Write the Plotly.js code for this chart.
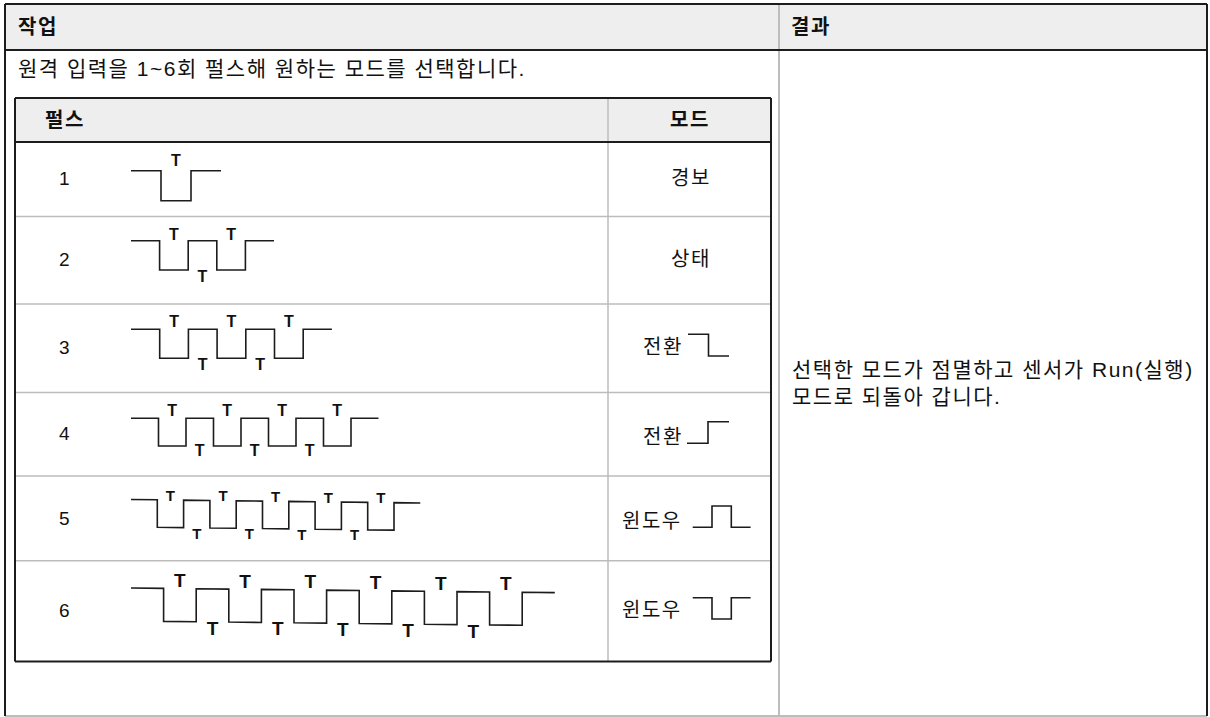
<!DOCTYPE html>
<html><head><meta charset="utf-8">
<script src="https://cdn.plot.ly/plotly-3.0.1.min.js"></script>
<style>html,body{margin:0;padding:0;background:#fff}#chart{width:1210px;height:717px}.annotation-text{letter-spacing:1.5px}</style>
</head><body><div id="chart"></div>
<script>
// ---------------- data ----------------
const outerHeaders = ['작업', '결과'];
const innerHeaders = ['펄스', '모드'];
const instruction = '원격 입력을 1~6회 펄스해 원하는 모드를 선택합니다.';
const resultLines = ['선택한 모드가 점멸하고 센서가 Run(실행)', '모드로 되돌아 갑니다.'];
const pulseCounts = [1, 2, 3, 4, 5, 6];
const modeLabels = ['경보', '상태', '전환', '전환', '윈도우', '윈도우'];
const modeIconLevels = [[], [], [1, 0], [0, 1], [0, 1, 0], [1, 0, 1]];
const pulseMark = 'T';

// ---------------- geometry / style (pixels) ----------------
const W = 1210, H = 717;
const outer = {x0: 5, x1: 1207, y0: 4, y1: 716, headY1: 50, divX: 779};
const inner = {x0: 15, x1: 771, y0: 98, headY1: 142, divX: 608};
const rowEdges = [142, 216.5, 304, 392.5, 476, 560.7, 661.5];
const waveX0 = 131;
const halfPeriod = [30, 28.6, 28.7, 27.5, 26.3, 32.6];
const highY = [170.7, 240.7, 329.3, 418.3, 499.5, 588];
const lowY = [200.7, 270, 358.3, 446, 527, 621];
const tilt = [0, 0, 0, 0, 0.012, 0.011];
const tTopOff = [-9, -4.5, -6.3, -6.6, -3, -6.5];
const tBotOff = [0, 7.7, 7.7, 5.7, 7, 8];
const tSize = [16, 16, 16, 16, 15, 19];
const numX = 65;
const numY = [178, 259, 347, 433, 518, 610];
const iconX0 = [0, 0, 688, 687, 692.7, 692.7];
const iconSeg = [0, 0, 20.5, 21, 19.3, 19.3];
const iconHigh = [0, 0, 334.3, 421.7, 506, 597.7];
const iconLow = [0, 0, 356, 443.3, 527.3, 619];
const modeTextX = [690.5, 690.5, 685, 685, 684, 684];
const modeTextY = [177.5, 259, 346.7, 436.7, 521, 610];

const FONT = 'Liberation Sans, Arial, Noto Sans CJK KR, sans-serif';
const DARK = '#1c1c1c', GRAY = '#bdbdbd', HEADBG = '#eeeeee';

// ---------------- traces ----------------
const traces = [];
pulseCounts.forEach((n, i) => {
  const h = halfPeriod[i];
  const yAt = (lvl, x) => lvl + tilt[i] * (x - waveX0);
  const xs = [waveX0], ys = [yAt(highY[i], waveX0)];
  for (let k = 0; k < n; k++) {
    const xf = waveX0 + (2 * k + 1) * h, xr = waveX0 + (2 * k + 2) * h;
    xs.push(xf, xf, xr, xr);
    ys.push(yAt(highY[i], xf), yAt(lowY[i], xf), yAt(lowY[i], xr), yAt(highY[i], xr));
  }
  const xe = waveX0 + (2 * n + 1) * h;
  xs.push(xe); ys.push(yAt(highY[i], xe));
  traces.push({x: xs, y: ys, mode: 'lines', line: {color: DARK, width: 1.6}, hoverinfo: 'skip'});
  const tx = [], ty = [];
  for (let k = 0; k < n; k++) {
    const x = waveX0 + (2 * k + 1.5) * h;
    tx.push(x); ty.push(yAt(highY[i], x) + tTopOff[i]);
  }
  for (let k = 0; k < n - 1; k++) {
    const x = waveX0 + (2 * k + 2.5) * h;
    tx.push(x); ty.push(yAt(lowY[i], x) + tBotOff[i]);
  }
  traces.push({x: tx, y: ty, mode: 'text', text: tx.map(() => pulseMark), textposition: 'middle center',
    textfont: {family: FONT, size: tSize[i], color: '#111', weight: 'bold'}, hoverinfo: 'skip'});
  const lv = modeIconLevels[i];
  if (lv.length) {
    const ix = [], iy = [];
    lv.forEach((l, j) => {
      const yy = l ? iconHigh[i] : iconLow[i];
      ix.push(iconX0[i] + j * iconSeg[i], iconX0[i] + (j + 1) * iconSeg[i]);
      iy.push(yy, yy);
    });
    traces.push({x: ix, y: iy, mode: 'lines', line: {color: DARK, width: 1.6}, hoverinfo: 'skip'});
  }
});

// ---------------- shapes ----------------
const shapes = [];
const line = (x0, y0, x1, y1, color, width) => shapes.push({type: 'line', xref: 'x', yref: 'y', x0, y0, x1, y1, line: {color, width}, layer: 'below'});
shapes.push({type: 'rect', xref: 'x', yref: 'y', x0: outer.x0, x1: outer.x1, y0: outer.y0, y1: outer.headY1, fillcolor: HEADBG, line: {width: 0}, layer: 'below'});
shapes.push({type: 'rect', xref: 'x', yref: 'y', x0: inner.x0, x1: inner.x1, y0: inner.y0, y1: inner.headY1, fillcolor: HEADBG, line: {width: 0}, layer: 'below'});
line(outer.divX, outer.y0, outer.divX, outer.y1, GRAY, 2);
line(outer.x0, outer.y1, outer.x1, outer.y1, GRAY, 2);
line(inner.divX, inner.y0, inner.divX, rowEdges[rowEdges.length - 1], GRAY, 1.5);
for (let r = 1; r < rowEdges.length - 1; r++) line(inner.x0, rowEdges[r], inner.x1, rowEdges[r], GRAY, 1.5);
line(outer.x0, outer.y0, outer.x1, outer.y0, DARK, 2);
line(outer.x0, outer.y0, outer.x0, outer.y1, DARK, 2);
line(outer.x1, outer.y0, outer.x1, outer.y1, DARK, 2);
line(outer.x0, outer.headY1, outer.x1, outer.headY1, DARK, 2);
const yb = rowEdges[rowEdges.length - 1];
line(inner.x0, inner.y0, inner.x1, inner.y0, DARK, 2);
line(inner.x0, yb, inner.x1, yb, DARK, 2);
line(inner.x0, inner.y0, inner.x0, yb, DARK, 2);
line(inner.x1, inner.y0, inner.x1, yb, DARK, 2);
line(inner.x0, inner.headY1, inner.x1, inner.headY1, DARK, 2);

// ---------------- annotations ----------------
const ann = [];
const txt = (text, x, y, xanchor, size, bold) => ann.push({text, x, y, xref: 'x', yref: 'y', xanchor, align: xanchor, yanchor: 'middle', showarrow: false,
  font: {family: FONT, size, color: '#111', weight: bold ? 'bold' : 'normal'}});
txt(outerHeaders[0], 16, 27, 'left', 20, true);
txt(outerHeaders[1], 789, 27, 'left', 20, true);
txt(instruction, 16, 68, 'left', 21, false);
txt(innerHeaders[0], 43, 120, 'left', 20, true);
txt(innerHeaders[1], (inner.divX + inner.x1) / 2, 120, 'center', 20, true);
pulseCounts.forEach((n, i) => {
  txt(String(n), numX, numY[i], 'center', 19, false);
  txt(modeLabels[i], modeTextX[i], modeTextY[i], modeIconLevels[i].length ? 'right' : 'center', 20, false);
});
ann.push({text: resultLines.join('<br>'), x: 790, y: 382.5, xref: 'x', yref: 'y', xanchor: 'left', yanchor: 'middle', align: 'left', showarrow: false,
  font: {family: FONT, size: 21, color: '#111'}});

Plotly.newPlot('chart', traces, {
  width: W, height: H, margin: {l: 0, r: 0, t: 0, b: 0, pad: 0},
  paper_bgcolor: '#fff', plot_bgcolor: '#fff', showlegend: false, hovermode: false,
  xaxis: {range: [0, W], visible: false, fixedrange: true},
  yaxis: {range: [H, 0], visible: false, fixedrange: true},
  shapes, annotations: ann
}, {staticPlot: true, displayModeBar: false});
</script></body></html>
